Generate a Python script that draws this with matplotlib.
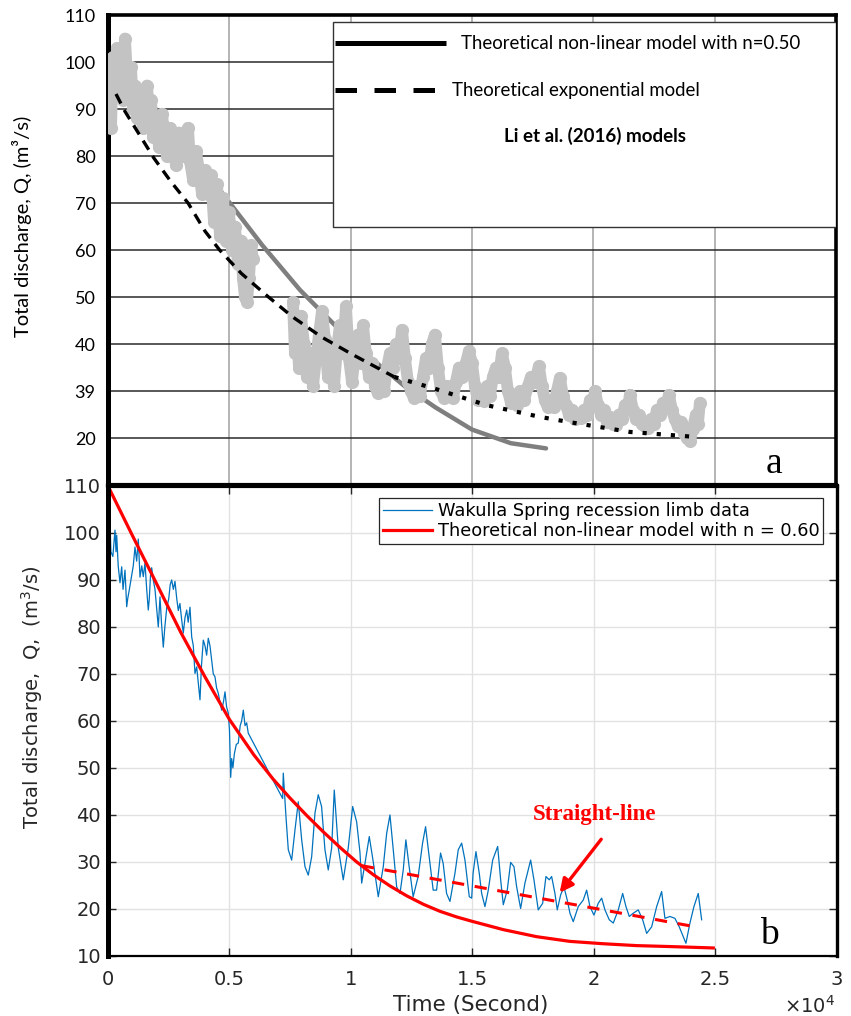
import matplotlib
matplotlib.use("Agg")
import matplotlib.pyplot as plt
from matplotlib.patches import Rectangle
import numpy as np

# ---- data ----
# Wakulla Spring recession limb, panel b (time in s, discharge in m3/s)
t_data = [0, 50, 120, 200, 288, 330, 358, 420, 494, 564, 620, 700, 770, 811, 880, 975, 1040, 1111, 1180, 1247,
          1317, 1390, 1453, 1523, 1593, 1658, 1700, 1750, 1798, 1864, 1934, 2000, 2070, 2140, 2200, 2276, 2340,
          2416, 2500, 2560, 2621, 2690, 2757, 2830, 2893, 2960, 3033, 3099, 3170, 3239, 3300, 3374, 3444, 3511,
          3580, 3650, 3720, 3786, 3850, 3922, 3992, 4060, 4127, 4197, 4267, 4333, 4403, 4470, 4539, 4609, 4678,
          4750, 4815, 4880, 4950, 5000, 5020, 5049, 5090, 5140, 5200, 5280, 5362, 5440, 5500, 5568, 5640, 5707,
          5773,
          7188, 7214, 7325, 7420, 7559, 7695, 7831, 7971, 8107, 8242, 8382, 8518, 8654, 8790, 8929, 9065, 9205,
          9312, 9477, 9682, 9888, 10069, 10234, 10370, 10440, 10576, 10753, 10917, 11123, 11329, 11469, 11604,
          11740, 11880, 12016, 12151, 12259, 12394, 12559, 12765, 12946, 13070, 13218, 13383, 13523, 13687,
          13794, 13934, 14073, 14279, 14415, 14555, 14691, 14868, 14967,
          15025, 15143, 15279, 15378, 15514, 15650, 15831, 16037, 16160, 16268, 16431, 16571, 16707, 16818,
          16982, 17159, 17394, 17530, 17707, 17888, 18024, 18160, 18258, 18394, 18489, 18629, 18764, 18900,
          19011, 19147, 19353, 19559, 19699, 19834, 19999, 20176, 20316, 20452, 20629, 20794, 21000, 21181,
          21317, 21453, 21618, 21823, 22004, 22169, 22374, 22580, 22785, 22921, 23127, 23332, 23509, 23674,
          23785, 23949, 24114, 24291, 24361, 24431]
q_data = [110, 108, 96, 95, 100.6, 96, 99.5, 93, 89.4, 92.8, 88, 92.1, 84.3, 86, 88, 91, 93, 97, 94, 98.7,
          90.6, 93, 90.7, 93.6, 88, 83.6, 86, 91, 92.6, 90, 88, 84, 80, 86.4, 81, 75.7, 80,
          84, 86, 89, 90, 88, 89.7, 86, 83.5, 85, 81.5, 78.7, 82, 83.6, 81, 84.2, 77.9, 76,
          70.1, 71.5, 68, 64.5, 72, 77.2, 76, 74, 77.6, 76, 73, 70, 69.4, 67, 65.9, 64, 62.3,
          64, 66.2, 63, 61.7, 58, 54, 48, 52, 50, 53, 55, 55.3, 59, 60, 62.3, 59, 59.6,
          57.4,
          43.5, 48.9, 39.6, 32.6, 30.4, 36.8, 42.8, 34.7, 29, 27.2, 31.1, 40.4, 44.3, 41.8, 32.6, 28.3, 33,
          45.3, 33, 26.2, 33, 41.8, 38.5, 32, 25.5, 29.7, 35.4, 30, 22.6, 29, 36.1, 40,
          32.6, 24.7, 23.3, 28.3, 34.7, 29, 22.6, 26.9, 34, 37.5, 31.1, 24, 24, 31.9,
          29.7, 23.3, 21.6, 27.6, 32.6, 34, 30.4, 22.6, 22.3,
          27.6, 32.2, 27.6, 23.3, 20.5, 24, 30.4, 33.3, 26.2, 20.9, 24, 29.9, 29, 24.7,
          20.1, 25.5, 30.4, 26.2, 19.8, 21.2, 26.9, 26.2, 26.9, 23.3, 19.8, 23, 24.7, 21.9,
          19.1, 17.3, 20.5, 21.9, 24, 20.5, 18.7, 21.2, 22.3, 19.8, 17.7, 17, 19.8, 23.3,
          20.5, 18.4, 19.1, 19.8, 17.7, 14.8, 16.2, 20.5, 23.7, 18, 18.4, 18, 16.2, 14.1,
          12.7, 17, 20.5, 23.3, 20.5, 17.7]

# the same record as scattered grey dots in panel a
t_top = [41, 82, 124, 206, 288, 371, 453, 536, 618, 700, 783, 865, 948, 1030, 1112, 1195, 1318, 1442, 1524,
         1607, 1689, 1772, 1854, 1978, 2101, 2225, 2307, 2431, 2554, 2678, 2802, 2925, 3049, 3172, 3296, 3378,
         3502, 3626, 3749, 3873, 3996, 4120, 4244, 4367, 4491, 4614, 4738, 4862, 4985, 5109, 5232, 5356, 5480,
         5562, 5644, 5727, 5809, 5892, 5974,
         7622, 7704, 7787, 7869, 7952, 8075, 8199, 8322, 8446, 8570, 8693, 8817, 8940, 9064, 9188, 9311, 9435,
         9558, 9682, 9806, 9929, 10053, 10176, 10300, 10424, 10506, 10630, 10753, 10877, 11000, 11124, 11248,
         11371, 11495, 11618, 11742, 11866, 11989, 12113, 12236, 12360, 12484, 12607, 12731, 12854, 12978,
         13102, 13225, 13349, 13472, 13596, 13720, 13843, 13967, 14090, 14214, 14338, 14461, 14585, 14750,
         14873, 14997, 15120, 15244, 15368, 15491, 15615, 15738, 15862, 15986, 16109, 16233, 16356, 16480,
         16604, 16727, 16851, 16974, 17139, 17304, 17428, 17592, 17757, 17881, 18004, 18128, 18252, 18375,
         18499, 18622, 18746, 18870, 18993, 19117, 19240, 19364, 19488, 19611, 19735, 19858, 19982, 20064,
         20188, 20312, 20435, 20559, 20682, 20806, 20930, 21053, 21177, 21300, 21424, 21506, 21630, 21754,
         21877, 22001, 22124, 22248, 22372, 22495, 22618, 22742, 22866, 22990, 23113, 23237, 23360, 23484,
         23608, 23731, 23855, 23978, 24102, 24226, 24308, 24390]
q_top = [88, 98, 86, 101, 95, 103, 96, 100, 92, 105, 97, 94, 99, 90, 95, 88, 91, 86, 93,
         95, 89, 92, 84, 88, 82, 89, 85, 80, 86, 83, 78, 85, 80, 84, 86, 79,
         75, 81, 77, 72, 77, 72, 76, 66, 74, 63, 71, 62, 68, 60, 65, 57, 62,
         54, 50, 49, 54, 61, 58,
         49, 38, 44, 35, 46, 40, 33, 38, 31, 37, 42, 47, 41, 33, 36, 31, 39,
         44, 38, 48, 37, 32, 38, 42, 36, 44, 38, 33, 36, 31, 29.5, 33,
         30, 35, 38, 35, 40, 37, 43, 37, 32, 30, 28.5, 31, 29, 33,
         37, 35, 40, 42, 35, 30, 28.5, 31, 29, 28.5, 32, 35, 33, 36,
         38.5, 36, 31, 28, 30, 27.8, 31, 29, 33, 35, 33, 38, 35, 30,
         27.5, 29, 27, 30, 28, 31, 33, 32, 35.3, 31, 28, 26.5, 28, 26.5,
         30, 32.8, 29, 27, 25, 26, 24, 25, 24.3, 26, 25, 28, 27, 30,
         27, 25, 26, 23.5, 24.5, 23, 22.8, 25, 24, 27, 26.5, 29.2, 26, 24,
         25, 23, 22.5, 22.2, 24, 23, 26, 25, 27.5, 26.5, 29.2, 26, 24, 22.5,
         23.5, 21, 20, 19.4, 22, 25, 23, 27.5]

# panel a: Li et al. (2016) models
t_nl50 = [0, 1500, 3000, 4500, 6346, 7912, 10084, 12256, 13500, 15000, 16600, 18050]
q_nl50 = [103, 93, 83.3, 73.5, 61.1, 51.5, 40.2, 30.9, 26.5, 21.8, 18.9, 17.8]
t_exp = [330, 700, 1300, 1900, 2600, 3300, 4000, 4600, 5500, 6500, 7600, 8800, 10100, 11800,
         13400, 15600, 17800, 19000, 21500, 24300]
q_exp = [93.2, 89.5, 84.5, 79.5, 74.5, 70, 64, 60, 55, 50.5, 45.8, 41.5, 37.7, 33,
         30.6, 27, 24.5, 23.4, 21.3, 20.2]

# panel b: non-linear model n = 0.60 and straight line
t_nl60 = [0, 1000, 2000, 3000, 4000, 5000, 6000, 6800, 7489, 8176, 8861, 9547, 10234, 10917, 11604,
          12291, 12976, 13662, 14349, 14962, 16268, 17640, 19011, 20382, 21754, 23126, 24910]
q_nl60 = [110, 99.5, 89.2, 78.8, 69.3, 60.3, 52.8, 47.6, 43.6, 39.9, 36.4, 33.1, 30.0, 27.3, 24.9,
          22.8, 21.0, 19.5, 18.3, 17.4, 15.6, 14.1, 13.1, 12.6, 12.2, 12.0, 11.7]
t_straight = [10452, 24280]
q_straight = [29.2, 16.1]

a_yticks = [110, 100, 90, 80, 70, 60, 50, 40, 30, 20]
a_ylabels = ["110", "100", "90", "80", "70", "60", "50", "40", "39", "20"]
b_xticks = [0, 5000, 10000, 15000, 20000, 25000, 30000]
b_xlabels = ["0", "0.5", "1", "1.5", "2", "2.5", "3"]

t_top = np.array(t_top)
q_top = np.array(q_top)
gap = np.where(np.diff(t_top) > 1000)[0][0] + 1

fig = plt.figure(figsize=(8.51, 10.16), dpi=100)
ax1 = fig.add_axes([0.1269, 0.5226, 0.8555, 0.4626])
ax2 = fig.add_axes([0.1269, 0.0591, 0.8566, 0.4626])

# ---------------- panel a ----------------
cal = "Lato"
ax1.set_xlim(0, 30000)
ax1.set_ylim(10, 110)
ax1.set_yticks(a_yticks)
ax1.set_yticklabels(a_ylabels, fontfamily=cal, fontsize=13)
ax1.set_xticks([5000, 10000, 15000, 20000, 25000])
ax1.set_xticklabels([])
ax1.tick_params(length=0, pad=9, colors="black")
ax1.yaxis.grid(True, color="#2a2a2a", lw=1.1)
ax1.xaxis.grid(True, color="#a0a0a0", lw=1.1)
ax1.set_axisbelow(True)
for side, w in [("left", 3.6), ("top", 2.6), ("right", 2.6), ("bottom", 3.0)]:
    ax1.spines[side].set_linewidth(w)
    ax1.spines[side].set_color("black")

ax1.plot(t_nl50, q_nl50, color="#7f7f7f", lw=3.2, zorder=2, solid_capstyle="round")
for s in [slice(0, gap), slice(gap, None)]:
    ax1.plot(t_top[s], q_top[s], color="#c3c3c3", lw=8.5, marker="o", ms=9.5,
             markeredgewidth=0, zorder=3, solid_joinstyle="round", solid_capstyle="round")
ax1.plot(t_exp[:14], q_exp[:14], color="black", lw=2.4, dashes=(3.2, 2.2), zorder=4)
ax1.plot(t_exp[13:], q_exp[13:], color="black", lw=3.0, dashes=(1.0, 2.4), zorder=4)

ax1.add_patch(Rectangle((0.309, 0.549), 0.691, 0.436, transform=ax1.transAxes,
                        facecolor="white", edgecolor="#333333", lw=1.0, zorder=5))
ax1.plot([0.312, 0.464], [0.940, 0.940], transform=ax1.transAxes, color="black", lw=3.6,
         solid_capstyle="butt", zorder=6)
ax1.plot([0.312, 0.449], [0.840, 0.840], transform=ax1.transAxes, color="black", lw=3.6,
         dashes=(4.3, 3.5), zorder=6)
ax1.text(0.485, 0.940, "Theoretical non-linear model with n=0.50", transform=ax1.transAxes,
         va="center", fontsize=13.4, family=cal, zorder=7)
ax1.text(0.473, 0.840, "Theoretical exponential model", transform=ax1.transAxes,
         va="center", fontsize=13.4, family=cal, zorder=7)
ax1.text(0.669, 0.743, "Li et al. (2016) models", transform=ax1.transAxes, ha="center",
         va="center", fontsize=13.5, family=cal, fontweight="bold", zorder=7)
ax1.text(0.915, 0.026, "a", transform=ax1.transAxes, ha="center", va="baseline",
         fontsize=27, family="Liberation Serif")
ax1.set_ylabel("Total discharge, Q, (m³/s)", family=cal, fontsize=14.5, va="center")
ax1.yaxis.set_label_coords(-0.118, 0.551)

# ---------------- panel b ----------------
ax2.set_xlim(0, 30000)
ax2.set_ylim(10, 110)
ax2.set_xticks(b_xticks)
ax2.set_xticklabels(b_xlabels)
ax2.set_yticks(range(10, 111, 10))
ax2.tick_params(direction="in", top=True, right=True, length=6, width=1.0,
                labelsize=14, colors="#262626")
ax2.tick_params(axis="x", pad=10)
ax2.tick_params(axis="y", pad=5)
ax2.grid(True, color="#e2e2e2", lw=1.0)
ax2.set_axisbelow(True)
for side, w in [("left", 3.6), ("top", 3.0), ("right", 2.4), ("bottom", 1.6)]:
    ax2.spines[side].set_linewidth(w)
    ax2.spines[side].set_color("black")

ax2.plot(t_data, q_data, color="#0072BD", lw=0.9, label="Wakulla Spring recession limb data")
ax2.plot(t_nl60, q_nl60, color="red", lw=2.3, label="Theoretical non-linear model with n = 0.60")
ax2.plot(t_straight, q_straight, color="red", lw=2.2, dashes=(4, 3.5))
ax2.annotate("", xy=(18518, 23.0), xytext=(20369, 35.3),
             arrowprops=dict(arrowstyle="-|>", color="red", lw=2.4, mutation_scale=20))
ax2.text(20040, 40.0, "Straight-line", color="red", fontsize=16.5, fontweight="bold",
         family="Liberation Serif", ha="center", va="center")
ax2.text(0.907, 0.025, "b", transform=ax2.transAxes, ha="center", va="baseline",
         fontsize=27, family="Liberation Serif")

leg = ax2.legend(loc="upper right", bbox_to_anchor=(0.981, 0.974), borderaxespad=0,
                 fancybox=False, edgecolor="#262626", framealpha=1, fontsize=12.8,
                 handlelength=2.8, handletextpad=0.3, borderpad=0.2, labelspacing=0.15)
leg.get_frame().set_linewidth(0.9)

ax2.set_ylabel("Total discharge,  Q,  (m$^3$/s)", fontsize=14, color="#262626", va="center")
ax2.yaxis.set_label_coords(-0.104, 0.551)
fig.text(471 / 851, 1 - 1011 / 1016, "Time (Second)", fontsize=15.5, color="#262626",
         ha="center", va="baseline")
fig.text(835 / 851, 1 - 1013 / 1016, r"$\times10^{4}$", fontsize=14, color="#262626",
         ha="right", va="baseline")

fig.savefig("out.png", dpi=100)
